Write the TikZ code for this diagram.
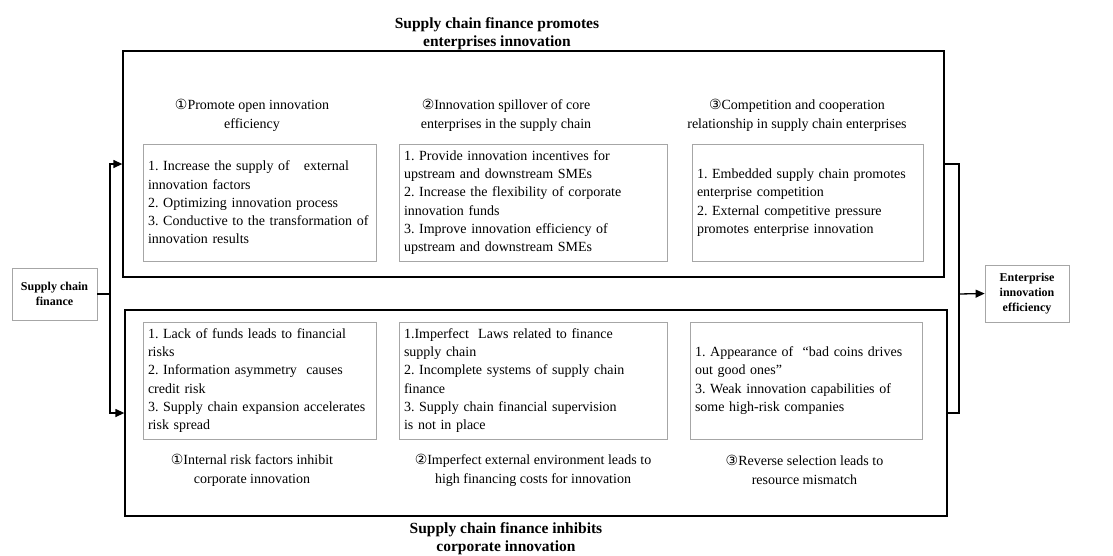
\documentclass[tikz,border=0pt]{standalone}
\usepackage{fontspec}
\setmainfont{Liberation Serif}
\newfontfamily\circfont{DejaVu Sans}
\usetikzlibrary{arrows.meta, positioning}

\newcommand{\cnum}[1]{{\circfont #1}}
\frenchspacing

\begin{document}
\begin{tikzpicture}[
    x=1pt, y=-1pt,
    outerbox/.style={rectangle, draw, line width=1.3pt, inner sep=0pt},
    itembox/.style={rectangle, draw=gray!70, line width=0.8pt, align=left, inner sep=5pt, minimum height=117pt, font=\fontsize{14}{18.3}\selectfont},
    heading/.style={align=center, font=\fontsize{14}{19}\selectfont},
    title/.style={align=center, font=\bfseries\fontsize{15.5}{18.5}\selectfont},
    endbox/.style={rectangle, draw=gray!70, line width=0.8pt, align=center, font=\bfseries\fontsize{12}{15}\selectfont},
    arrow/.style={draw, line width=1.3pt, -{Triangle[length=9pt,width=8pt]}}
]
\useasboundingbox (0,0) rectangle (1113,555);

% Outer frames
\node[outerbox, minimum width=821pt, minimum height=226pt] (promote) at (533.5,164) {};
\node[outerbox, minimum width=822pt, minimum height=206pt] (inhibit) at (536,413) {};
\node[title] (promotetitle) at (497,33.5) {Supply chain finance promotes\\enterprises innovation};
\node[title] (inhibittitle) at (506,538.5) {Supply chain finance inhibits\\corporate innovation};

% End points
\node[endbox, minimum width=85pt, minimum height=52pt] (scf) at (54.5,294) {Supply chain\\finance};
\node[endbox, minimum width=84pt, minimum height=57pt] (eie) at (1027,293.5) {Enterprise\\innovation\\efficiency};

% Promoting channels
\node[heading] (ph1) at (252,115.5) {\cnum{①}Promote open innovation\\efficiency};
\node[heading] (ph2) at (506,115.5) {\cnum{②}Innovation spillover of core\\enterprises in the supply chain};
\node[heading] (ph3) at (797,115.5) {\cnum{③}Competition and cooperation\\relationship in supply chain enterprises};

\node[itembox, text width=223pt] (pb1) at (259.5,202.5) {1. Increase the supply of \ \ external\\innovation factors\\2. Optimizing innovation process\\3. Conductive to the transformation of\\innovation results};
\node[itembox, text width=258pt] (pb2) at (533,202.5) {1. Provide innovation incentives for\\upstream and downstream SMEs\\2. Increase the flexibility of corporate\\innovation funds\\3. Improve innovation efficiency of\\upstream and downstream SMEs};
\node[itembox, text width=221pt] (pb3) at (807.5,202.5) {1. Embedded supply chain promotes\\enterprise competition\\2. External competitive pressure\\promotes enterprise innovation};

% Inhibiting channels
\node[itembox, text width=223pt] (ib1) at (259.5,380.5) {1. Lack of funds leads to financial\\risks\\2. Information asymmetry \ causes\\credit risk\\3. Supply chain expansion accelerates\\risk spread};
\node[itembox, text width=258pt] (ib2) at (533,380.5) {1.Imperfect \ Laws related to finance\\supply chain\\2. Incomplete systems of supply chain\\finance\\3. Supply chain financial supervision\\is not in place};
\node[itembox, text width=222pt] (ib3) at (806,380.5) {1. Appearance of \ “bad coins drives\\out good ones”\\3. Weak innovation capabilities of\\some high-risk companies};

\node[heading] (ih1) at (252,470) {\cnum{①}Internal risk factors inhibit\\corporate innovation};
\node[heading] (ih2) at (533,470) {\cnum{②}Imperfect external environment leads to\\high financing costs for innovation};
\node[heading] (ih3) at (804.5,470) {\cnum{③}Reverse selection leads to\\resource mismatch};

% Connectors
\coordinate (split) at (110,294);
\coordinate (merge) at (959,294);
\draw[line width=1.3pt] (scf.east) -- (split);
\draw[arrow] (split) |- (promote.west);
\draw[arrow] (split) |- (inhibit.west);
\draw[line width=1.3pt] (promote.east) -| (merge);
\draw[line width=1.3pt] (inhibit.east) -| (merge);
\draw[arrow] (merge) -- (eie.west);

\end{tikzpicture}
\end{document}
